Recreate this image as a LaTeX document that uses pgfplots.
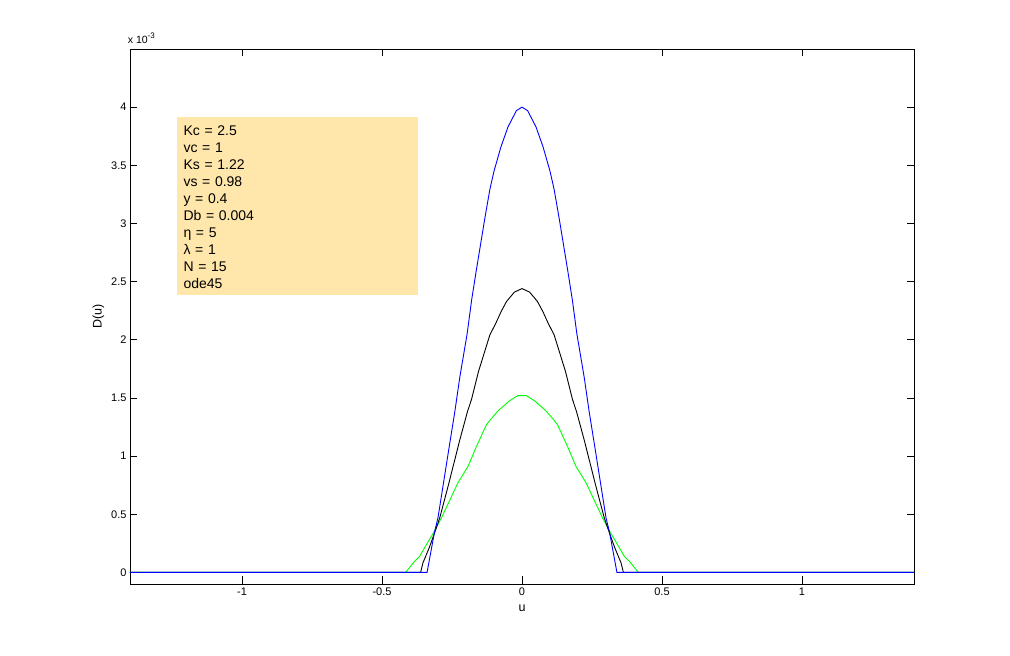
\documentclass[border=0pt]{standalone}
\usepackage{fontspec}
\setmainfont{Liberation Sans}
\usepackage{pgfplots}
\pgfplotsset{compat=1.18}
\definecolor{infobox}{RGB}{255,230,170}
\definecolor{mgreen}{RGB}{0,255,0}
\definecolor{mblue}{RGB}{0,0,255}

\begin{document}
\begin{tikzpicture}
% page = 1010 x 656 px, 1pt per px
\useasboundingbox (-130pt,-72pt) rectangle (880pt,584pt);
\begin{axis}[
    scale only axis,
    width=784pt, height=535pt,
    xmin=-1.4, xmax=1.4,
    ymin=-0.1, ymax=4.5,
    xtick={-1,-0.5,0,0.5,1},
    xticklabels={-1,-0.5,0,0.5,1},
    ytick={0,0.5,1,1.5,2,2.5,3,3.5,4},
    yticklabels={0,0.5,1,1.5,2,2.5,3,3.5,4},
    tick align=inside,
    major tick length=7.5pt,
    tick style={black, line width=0.8pt},
    axis line style={black, line width=0.8pt},
    ticklabel style={font=\fontsize{11}{13}\selectfont},
    xlabel={u}, ylabel={D(u)},
    every axis x label/.style={at={(rel axis cs:0.5,-0.045)}, anchor=center,
        font=\fontsize{12.5}{14}\selectfont},
    every axis y label/.style={at={(rel axis cs:-0.0404,0.5)}, rotate=90, anchor=center,
        font=\fontsize{12.5}{14}\selectfont},
    clip mode=individual,
]
% D in units of 1e-3
\addplot[mgreen, line width=0.9pt] coordinates {
(-1.4,0) (-0.415,0) (-0.389,0.08) (-0.365,0.14) (-0.341,0.24) (-0.316,0.34)
(-0.288,0.467) (-0.258,0.62) (-0.229,0.77) (-0.193,0.91) (-0.163,1.08)
(-0.127,1.27) (-0.11,1.32) (-0.085,1.39) (-0.045,1.475) (-0.015,1.52)
(0,1.52) (0.015,1.52) (0.045,1.475) (0.085,1.39) (0.11,1.32) (0.127,1.27)
(0.163,1.08) (0.193,0.91) (0.229,0.77) (0.258,0.62) (0.288,0.467)
(0.316,0.34) (0.341,0.24) (0.365,0.14) (0.389,0.08) (0.415,0) (1.4,0)
};
\addplot[black, line width=0.9pt] coordinates {
(-1.4,0) (-0.362,0) (-0.354,0.08) (-0.33,0.22) (-0.312,0.34) (-0.294,0.467)
(-0.264,0.74) (-0.222,1.14) (-0.195,1.38) (-0.18,1.49) (-0.155,1.73)
(-0.115,2.04) (-0.092,2.15) (-0.075,2.24) (-0.055,2.33) (-0.027,2.41)
(0,2.44) (0.027,2.41) (0.055,2.33) (0.075,2.24) (0.092,2.15) (0.115,2.04)
(0.155,1.73) (0.18,1.49) (0.195,1.38) (0.222,1.14) (0.264,0.74)
(0.294,0.467) (0.312,0.34) (0.33,0.22) (0.354,0.08) (0.362,0) (1.4,0)
};
\addplot[mblue, line width=0.9pt] coordinates {
(-1.4,0) (-0.339,0) (-0.313,0.34) (-0.3,0.47) (-0.258,1.11) (-0.24,1.38)
(-0.222,1.68) (-0.196,2.05) (-0.18,2.34) (-0.163,2.6) (-0.133,3.04)
(-0.115,3.29) (-0.1,3.45) (-0.075,3.66) (-0.05,3.83) (-0.02,3.97)
(0,4.0) (0.02,3.97) (0.05,3.83) (0.075,3.66) (0.1,3.45) (0.115,3.29)
(0.133,3.04) (0.163,2.6) (0.18,2.34) (0.196,2.05) (0.222,1.68) (0.24,1.38)
(0.258,1.11) (0.3,0.47) (0.313,0.34) (0.339,0) (1.4,0)
};
% parameter box
\fill[infobox] (rel axis cs:0.0603,0.540) rectangle (rel axis cs:0.3677,0.8735);
\node[anchor=base west, inner sep=0pt, text width=220pt, align=left,
      font=\fontsize{14}{17}\selectfont] at (rel axis cs:0.068,0.8374)
  {Kc = 2.5\\vc = 1\\Ks = 1.22\\vs = 0.98\\y = 0.4\\Db = 0.004\\η = 5\\λ = 1\\N = 15\\ode45};
% exponent label
\node[anchor=base west, inner sep=0pt, font=\fontsize{10.5}{12}\selectfont]
  at (rel axis cs:-0.003,1.0107) {x 10\raisebox{4.5pt}{\fontsize{8}{9}\selectfont -3}};
\end{axis}
\end{tikzpicture}
\end{document}
